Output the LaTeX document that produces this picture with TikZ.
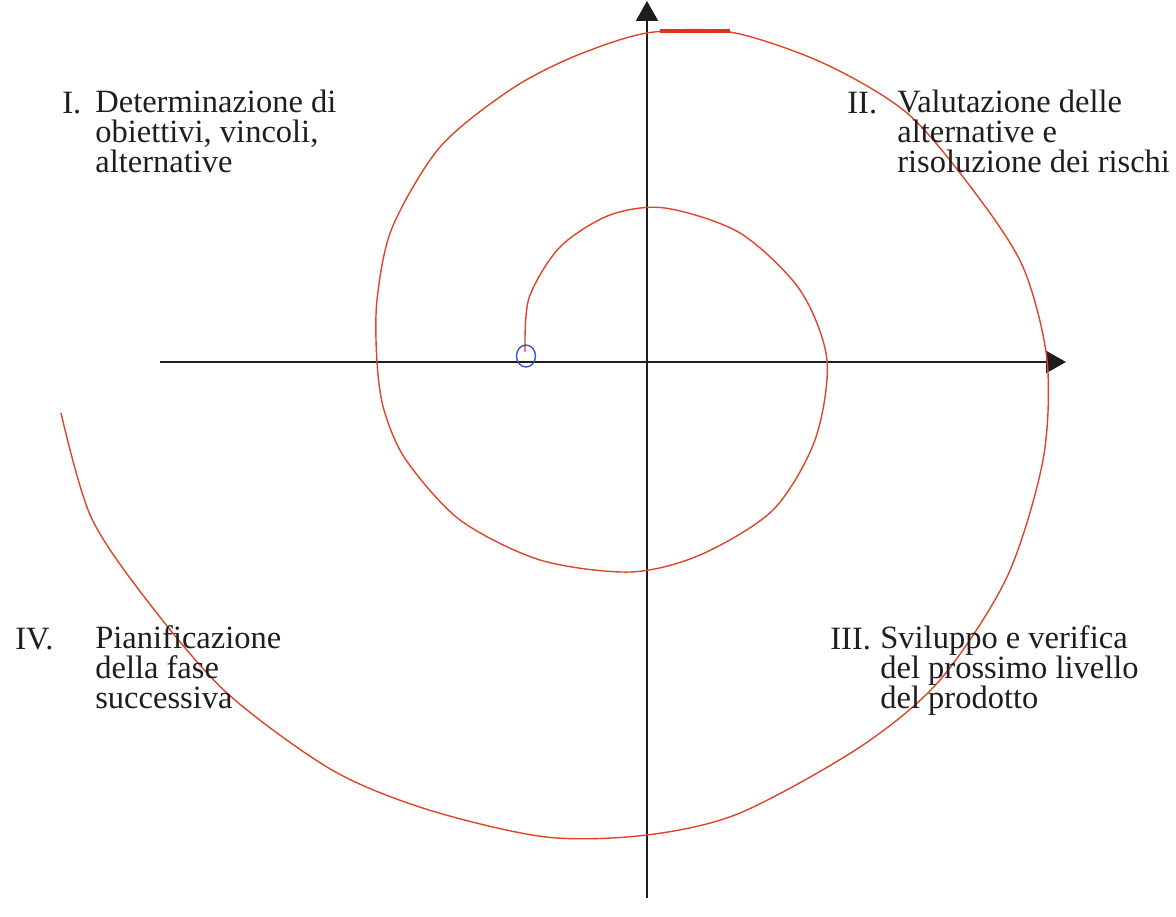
\documentclass[tikz,border=0pt]{standalone}
\usepackage{fontspec}
\setmainfont{Liberation Serif}
\usetikzlibrary{arrows.meta, positioning, shapes.geometric}
\definecolor{inchiostro}{HTML}{1E1E1E}
\definecolor{rosso}{HTML}{E0442A}
\definecolor{rossovivo}{HTML}{E2321A}
\definecolor{blu}{HTML}{3A56C8}
\newcommand{\testofase}{\rmfamily\fontsize{18.5}{16.8}\selectfont\lineskiplimit=-20pt\relax}
\tikzset{
  asse/.style={line width=1.4pt, color=inchiostro, -{Triangle[length=4mm, width=4.4mm]}},
  spirale/.style={line width=0.8pt, color=rosso},
  tratto/.style={line width=2.2pt, color=rossovivo},
  inizio/.style={ellipse, draw=blu, line width=0.8pt, minimum width=3.8mm,
    minimum height=4.4mm, inner sep=0pt},
  numero/.style={font=\testofase, text=inchiostro, anchor=base west, inner sep=0pt},
  fase/.style={numero, align=left}
}
\begin{document}
\begin{tikzpicture}[x=0.02cm, y=-0.02cm]
    \useasboundingbox (0,0) rectangle (1176,916);
    \coordinate (ovest) at (160,362);
    \coordinate (est) at (1066,362);
    \coordinate (sud) at (647,898);
    \coordinate (nord) at (647,1);

    \draw[asse] (ovest) -- (est);
    \draw[asse] (sud) -- (nord);

    \draw[spirale] plot[smooth] coordinates {
      (525,352) (529,298) (560,247) (610,215) (665,208) (740,233) (800,290)
      (827,360) (815,440) (773,510) (700,555) (630,572) (540,560) (460,520)
      (406,460) (384,410) (377,362) (377,300) (392,228) (440,147) (510,90)
      (573,57) (647,33) (730,32) (823,63) (907,113) (973,190) (1023,267)
      (1047,360) (1043,460) (1007,577) (940,680) (860,747) (740,813)
      (647,835) (546,837) (429,810) (332,770) (227,693) (149,603) (91,517)
      (61,413)};
    \draw[tratto] (660,31) -- (730,31);
    \node[inizio] (partenza) at (526,356) {};

    \node[numero] (n1) at (62,113) {I.};
    \node[fase] (f1) at (95,172) {Determinazione di\\obiettivi, vincoli,\\alternative};
    \node[numero] (n2) at (847,113) {II.};
    \node[fase] (f2) at (897,172) {Valutazione delle\\alternative e\\risoluzione dei rischi};
    \node[numero] (n3) at (830,649) {III.};
    \node[fase] (f3) at (880,708) {Sviluppo e verifica\\del prossimo livello\\del prodotto};
    \node[numero] (n4) at (15,649) {IV.};
    \node[fase] (f4) at (95,708) {Pianificazione\\della fase\\successiva};
\end{tikzpicture}
\end{document}
